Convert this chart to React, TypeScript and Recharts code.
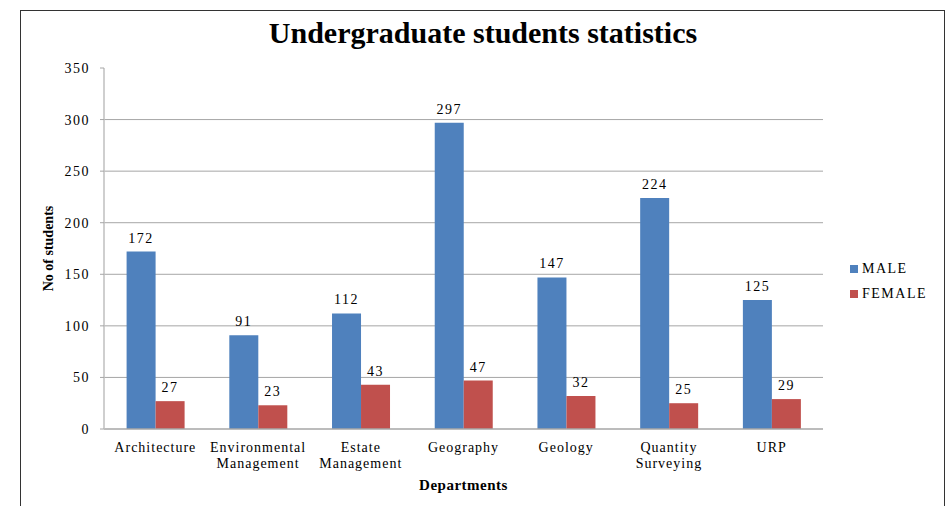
import React from 'react';
import { BarChart, Bar, XAxis, YAxis, CartesianGrid, Legend, LabelList } from 'recharts';

const departments = ['Architecture', 'Environmental Management', 'Estate Management', 'Geography', 'Geology', 'Quantity Surveying', 'URP'];
const maleValues = [172, 91, 112, 297, 147, 224, 125];
const femaleValues = [27, 23, 43, 47, 32, 25, 29];
const yTicks = [0, 50, 100, 150, 200, 250, 300, 350];
const gridValues = [50, 100, 150, 200, 250, 300];
const seriesNames = ['MALE', 'FEMALE'];
const seriesColors = ['#4F81BD', '#C0504D'];

const data = departments.map((d, i) => ({ dept: d, MALE: maleValues[i], FEMALE: femaleValues[i] }));

const FONT = '"Liberation Serif", "Times New Roman", serif';

const DeptTick = (props: any) => {
  const { x, y, payload } = props;
  const words = String(payload.value).split(' ');
  return (
    <g transform={`translate(${x},${y})`}>
      {words.map((w: string, i: number) => (
        <text key={i} x={0} y={0} dy={15 + i * 16} textAnchor="middle" fill="#000" fontFamily={FONT} fontSize={14} letterSpacing={1}>
          {w}
        </text>
      ))}
    </g>
  );
};

const LegendContent = () => (
  <div style={{ fontFamily: FONT, fontSize: 14, letterSpacing: 1.5, color: '#000' }}>
    {seriesNames.map((n, i) => (
      <div key={n} style={{ display: 'flex', alignItems: 'center', height: 25 }}>
        <span style={{ display: 'inline-block', width: 8, height: 8, background: seriesColors[i], marginRight: 4 }} />
        <span>{n}</span>
      </div>
    ))}
  </div>
);

export default function App() {
  return (
    <div style={{ position: 'absolute', left: 0, top: 0, width: 952, height: 506, background: '#fff', overflow: 'hidden' }}>
      <div style={{ position: 'absolute', left: 20, top: 10, width: 925, height: 520, border: '1.5px solid #333', boxSizing: 'border-box' }} />
      <div style={{ position: 'absolute', left: 20, width: 926, top: 16, textAlign: 'center', fontFamily: FONT, fontWeight: 'bold', fontSize: 30, color: '#000' }}>
        Undergraduate students statistics
      </div>
      <div style={{ position: 'absolute', left: 0, top: 0 }}>
        <BarChart width={952} height={506} data={data} margin={{ top: 68, right: 129, left: 60, bottom: 20 }} barCategoryGap="22%" barGap={0}>
          <CartesianGrid horizontal={true} vertical={false} stroke="#A6A6A6" horizontalValues={gridValues} />
          <XAxis
            dataKey="dept"
            interval={0}
            tick={<DeptTick />}
            tickLine={false}
            axisLine={{ stroke: '#A6A6A6', strokeWidth: 1.5 }}
            height={57}
            label={{ value: 'Departments', position: 'insideBottom', offset: -4, fill: '#000', fontFamily: FONT, fontWeight: 'bold', fontSize: 15, letterSpacing: 0.5 }}
          />
          <YAxis
            domain={[0, 350]}
            ticks={yTicks}
            width={44}
            tickSize={4}
            tickLine={{ stroke: '#A6A6A6' }}
            axisLine={{ stroke: '#BFBFBF', strokeWidth: 1.5 }}
            tick={{ fill: '#000', fontFamily: FONT, fontSize: 14, letterSpacing: 1.5 }}
            tickMargin={10}
            label={{ value: 'No of students', angle: -90, position: 'insideLeft', offset: -12, fill: '#000', fontFamily: FONT, fontWeight: 'bold', fontSize: 14, style: { textAnchor: 'middle' } }}
          />
          <Legend
            layout="vertical"
            align="center"
            verticalAlign="middle"
            content={<LegendContent />}
            wrapperStyle={{ position: 'absolute', left: 850, top: 256, width: 100 }}
          />
          <Bar dataKey="MALE" fill={seriesColors[0]} isAnimationActive={false}>
            <LabelList dataKey="MALE" position="top" offset={9} fill="#000" fontFamily={FONT} fontSize={14} letterSpacing={1.5} />
          </Bar>
          <Bar dataKey="FEMALE" fill={seriesColors[1]} isAnimationActive={false}>
            <LabelList dataKey="FEMALE" position="top" offset={9} fill="#000" fontFamily={FONT} fontSize={14} letterSpacing={1.5} />
          </Bar>
        </BarChart>
      </div>
    </div>
  );
}
